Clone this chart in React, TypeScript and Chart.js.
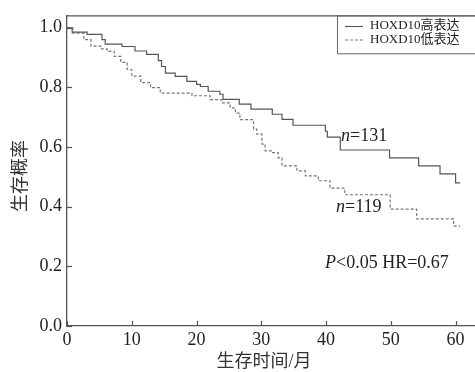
import React, { useEffect, useRef } from "react";
import { Chart, registerables } from "chart.js";

Chart.register(...registerables);

const highTimes = [0, 0.8, 3.1, 5.4, 5.9, 8.5, 10.5, 12.3, 14.1, 14.6, 15.2, 16.7, 18.5, 20.0, 20.6, 21.8, 23.6, 24.1, 26.6, 28.4, 31.7, 33.2, 34.9, 39.9, 40.2, 42.2, 49.8, 54.3, 57.6, 60.0, 60.7];
const highSurv = [1.0, 0.985, 0.978, 0.96, 0.945, 0.937, 0.922, 0.911, 0.89, 0.87, 0.848, 0.837, 0.82, 0.81, 0.803, 0.787, 0.777, 0.76, 0.744, 0.727, 0.71, 0.693, 0.673, 0.653, 0.633, 0.59, 0.564, 0.537, 0.51, 0.48, 0.48];

const lowTimes = [0, 0.9, 2.6, 3.7, 5.2, 6.2, 7.3, 8.3, 9.3, 10.0, 11.4, 12.9, 14.4, 19.3, 22.1, 23.9, 25.2, 26.0, 26.7, 28.8, 29.3, 30.1, 30.6, 31.6, 32.6, 33.2, 35.5, 36.8, 38.8, 40.6, 42.9, 49.9, 54.0, 59.7, 60.7];
const lowSurv = [1.0, 0.982, 0.96, 0.938, 0.929, 0.921, 0.904, 0.884, 0.86, 0.838, 0.816, 0.799, 0.781, 0.772, 0.759, 0.748, 0.731, 0.714, 0.692, 0.66, 0.643, 0.61, 0.587, 0.581, 0.564, 0.537, 0.52, 0.503, 0.487, 0.462, 0.44, 0.392, 0.359, 0.335, 0.335];

const xTicks = [0, 10, 20, 30, 40, 50, 60];
const yTicks = [0, 0.2, 0.4, 0.6, 0.8, 1.0];
const seriesNames = ["HOXD10高表达", "HOXD10低表达"];
const xTitle = "生存时间/月";
const yTitle = "生存概率";
const nHigh = "131";
const nLow = "119";
const statText = ["P", "<0.05 HR=0.67"];

const FONT = "'Liberation Serif', 'Noto Sans CJK SC', serif";
const AXIS = "#555";

export default function App() {
  const ref = useRef<HTMLCanvasElement>(null);
  useEffect(() => {
    document.body.style.margin = "0";
    const canvas = ref.current!;
    const overlay = {
      id: "overlay",
      afterDraw(chart: any) {
        const ctx = chart.ctx as CanvasRenderingContext2D;
        const xs = chart.scales.x;
        const ys = chart.scales.y;
        const ca = chart.chartArea;
        ctx.save();
        ctx.strokeStyle = AXIS;
        ctx.lineWidth = 1.3;
        // top border
        ctx.beginPath();
        ctx.moveTo(ca.left, ys.getPixelForValue(1.04));
        ctx.lineTo(ca.right, ys.getPixelForValue(1.04));
        ctx.stroke();
        // inward ticks
        ctx.lineWidth = 1.2;
        for (const v of yTicks) {
          const py = Math.round(ys.getPixelForValue(v)) + 0.5;
          ctx.beginPath();
          ctx.moveTo(ca.left, py);
          ctx.lineTo(ca.left + 5, py);
          ctx.stroke();
        }
        for (const v of xTicks) {
          const px = Math.round(xs.getPixelForValue(v)) + 0.5;
          ctx.beginPath();
          ctx.moveTo(px, ca.bottom);
          ctx.lineTo(px, ca.bottom - 5);
          ctx.stroke();
        }
        // legend box
        ctx.lineWidth = 1;
        ctx.strokeStyle = "#666";
        ctx.strokeRect(337.5, ys.getPixelForValue(1.04), 145, 38);
        ctx.lineWidth = 1.1;
        ctx.strokeStyle = "#555";
        ctx.setLineDash([]);
        ctx.beginPath();
        ctx.moveTo(345, 26.5);
        ctx.lineTo(363, 26.5);
        ctx.stroke();
        ctx.strokeStyle = "#777";
        ctx.setLineDash([3, 2]);
        ctx.beginPath();
        ctx.moveTo(345, 40);
        ctx.lineTo(363, 40);
        ctx.stroke();
        ctx.setLineDash([]);
        ctx.fillStyle = "#222";
        ctx.font = `13px ${FONT}`;
        ctx.textBaseline = "middle";
        ctx.textAlign = "left";
        ctx.fillText(seriesNames[0], 370, 26);
        ctx.fillText(seriesNames[1], 370, 40);
        // annotations
        const italicPair = (it: string, rest: string, x: number, y: number) => {
          ctx.font = `italic 18px ${FONT}`;
          ctx.fillText(it, x, y);
          const w = ctx.measureText(it).width;
          ctx.font = `18px ${FONT}`;
          ctx.fillText(rest, x + w, y);
        };
        italicPair("n", "=" + nHigh, 341, 136);
        italicPair("n", "=" + nLow, 336, 207);
        italicPair(statText[0], statText[1], 325, 263);
        // axis titles
        ctx.fillStyle = "#333";
        ctx.font = `18px ${FONT}`;
        ctx.textAlign = "center";
        ctx.fillText(xTitle, 264, 362);
        ctx.save();
        ctx.translate(21, 176);
        ctx.rotate(-Math.PI / 2);
        ctx.fillText(yTitle, 0, 0);
        ctx.restore();
        ctx.restore();
      },
    };
    const chart = new Chart(canvas, {
      type: "line",
      data: {
        datasets: [
          {
            label: seriesNames[0],
            data: highTimes.map((t, i) => ({ x: t, y: highSurv[i] })),
            stepped: "before",
            borderColor: "#555",
            borderWidth: 1.2,
            pointRadius: 0,
            fill: false,
          },
          {
            label: seriesNames[1],
            data: lowTimes.map((t, i) => ({ x: t, y: lowSurv[i] })),
            stepped: "before",
            borderColor: "#777",
            borderWidth: 1.2,
            borderDash: [3, 2],
            pointRadius: 0,
            fill: false,
          },
        ],
      },
      options: {
        responsive: false,
        animation: false,
        layout: { padding: { top: 14, left: 0, right: 0, bottom: 0 } },
        plugins: { legend: { display: false }, tooltip: { enabled: false }, title: { display: false } },
        scales: {
          x: {
            type: "linear",
            min: 0,
            max: 63,
            afterBuildTicks: (s: any) => {
              s.ticks = xTicks.map((v) => ({ value: v }));
            },
            afterFit: (s: any) => {
              s.height = 46;
            },
            grid: { display: false, drawTicks: false },
            border: { display: true, color: AXIS, width: 1.3 },
            ticks: {
              padding: 3,
              color: "#222",
              font: { family: FONT, size: 18 },
              maxRotation: 0,
              callback: (v: any) => String(v),
            },
          },
          y: {
            type: "linear",
            min: 0,
            max: 1.04,
            afterBuildTicks: (s: any) => {
              s.ticks = yTicks.map((v) => ({ value: v }));
            },
            afterFit: (s: any) => {
              s.width = 67;
            },
            grid: { display: false, drawTicks: false },
            border: { display: true, color: AXIS, width: 1.3 },
            ticks: {
              padding: 5,
              color: "#222",
              font: { family: FONT, size: 18 },
              callback: (v: any) => Number(v).toFixed(1),
            },
          },
        },
      },
      plugins: [overlay],
    });
    return () => chart.destroy();
  }, []);
  return <canvas ref={ref} width={475} height={372} style={{ display: "block" }} />;
}
